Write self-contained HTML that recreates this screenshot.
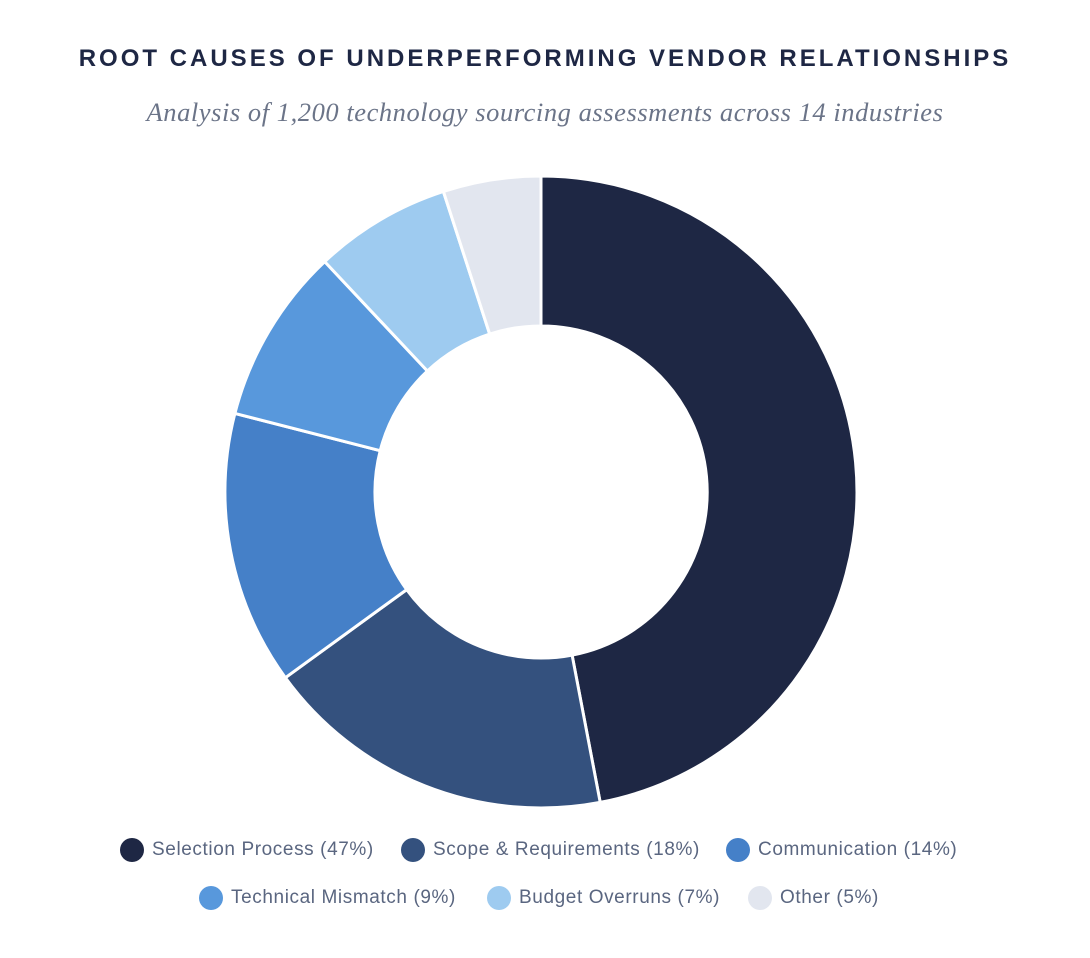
<!DOCTYPE html>
<html><head><meta charset="utf-8"><style>
body{margin:0;width:1090px;height:958px;background:#fff;overflow:hidden;position:relative;font-family:"Liberation Sans",sans-serif}
.t{position:absolute;left:0;width:1090px;text-align:center}
.title{top:45px;font-size:24px;font-weight:bold;letter-spacing:3px;color:#1e2744}
.sub{top:97px;font-family:"Liberation Serif",serif;font-style:italic;font-size:26.5px;letter-spacing:0.55px;color:#6b7488}
.lg{position:absolute;font-size:19px;letter-spacing:0.6px;color:#5a6680;line-height:24px;white-space:nowrap}
.d{position:absolute;width:24px;height:24px;border-radius:50%}
</style></head><body>
<div class="t title">ROOT CAUSES OF UNDERPERFORMING VENDOR RELATIONSHIPS</div>
<div class="t sub">Analysis of 1,200 technology sourcing assessments across 14 industries</div>
<svg width="1090" height="958" style="position:absolute;left:0;top:0" stroke="#fff" stroke-width="3" stroke-linejoin="round">
<path fill="#1e2744" d="M541,176 A316,316 0 0 1 600.2,802.4 L572.1,655.1 A166,166 0 0 0 541,326 Z"/>
<path fill="#34517e" d="M600.2,802.4 A316,316 0 0 1 285.4,677.7 L406.7,589.6 A166,166 0 0 0 572.1,655.1 Z"/>
<path fill="#4580c8" d="M285.4,677.7 A316,316 0 0 1 234.9,413.4 L380.2,450.7 A166,166 0 0 0 406.7,589.6 Z"/>
<path fill="#5898dc" d="M234.9,413.4 A316,316 0 0 1 324.7,261.6 L427.4,371 A166,166 0 0 0 380.2,450.7 Z"/>
<path fill="#9ecbf0" d="M324.7,261.6 A316,316 0 0 1 443.4,191.5 L489.7,334.1 A166,166 0 0 0 427.4,371 Z"/>
<path fill="#e2e6ef" d="M443.4,191.5 A316,316 0 0 1 541,176 L541,326 A166,166 0 0 0 489.7,334.1 Z"/>
</svg>
<div class="d" style="left:120px;top:838px;background:#1e2744"></div><div class="lg" style="left:152px;top:838px">Selection Process (47%)</div>
<div class="d" style="left:401px;top:838px;background:#34517e"></div><div class="lg" style="left:433px;top:838px">Scope &amp; Requirements (18%)</div>
<div class="d" style="left:726px;top:838px;background:#4580c8"></div><div class="lg" style="left:758px;top:838px">Communication (14%)</div>
<div class="d" style="left:199px;top:886px;background:#5898dc"></div><div class="lg" style="left:231px;top:886px">Technical Mismatch (9%)</div>
<div class="d" style="left:487px;top:886px;background:#9ecbf0"></div><div class="lg" style="left:519px;top:886px">Budget Overruns (7%)</div>
<div class="d" style="left:748px;top:886px;background:#e2e6ef"></div><div class="lg" style="left:780px;top:886px">Other (5%)</div>
</body></html>
